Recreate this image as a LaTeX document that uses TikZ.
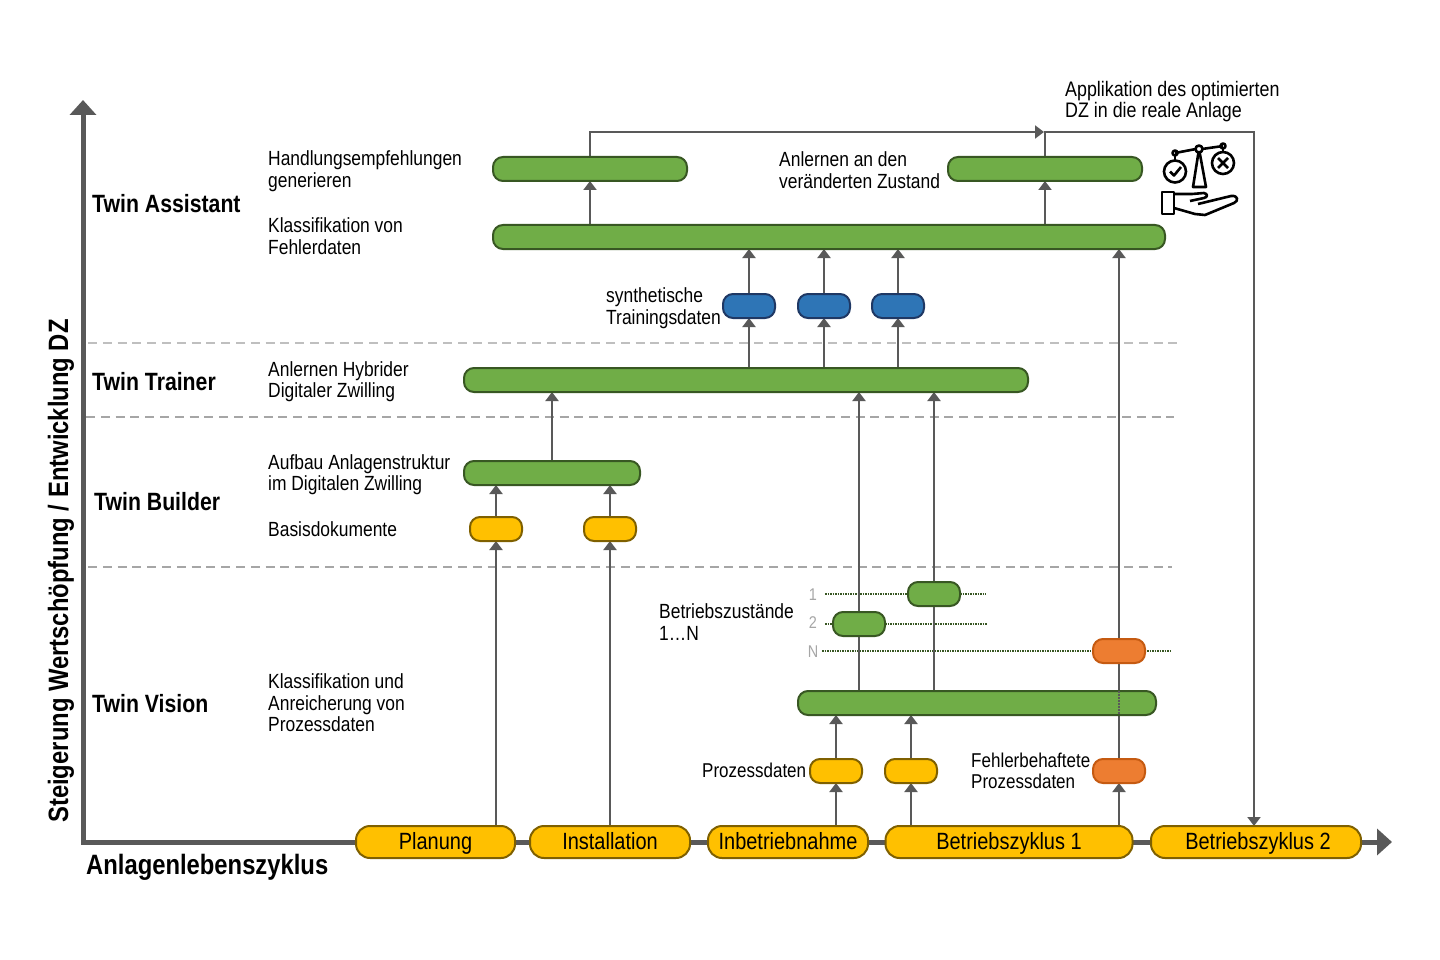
\documentclass[tikz,border=0pt]{standalone}
\usepackage{fontspec}
\setmainfont[FakeStretch=0.85]{Liberation Sans}
\usetikzlibrary{arrows.meta,backgrounds}
\definecolor{linegray}{HTML}{595959}
\definecolor{dashgray}{HTML}{A6A6A6}
\definecolor{dashlight}{HTML}{BFBFBF}
\definecolor{greenfill}{HTML}{70AD47}
\definecolor{greenline}{HTML}{385723}
\definecolor{bluefill}{HTML}{2E75B6}
\definecolor{blueline}{HTML}{1F3864}
\definecolor{yellowfill}{HTML}{FFC000}
\definecolor{yellowline}{HTML}{7F6000}
\definecolor{orangefill}{HTML}{ED7D31}
\definecolor{orangeline}{HTML}{C55A11}
\tikzset{
  pill/.style={rectangle,rounded corners=10pt,minimum height=24pt,inner sep=0pt,outer sep=0pt,line width=2pt},
  gp/.style={pill,fill=greenfill,draw=greenline},
  bp/.style={pill,fill=bluefill,draw=blueline},
  yp/.style={pill,fill=yellowfill,draw=yellowline},
  op/.style={pill,fill=orangefill,draw=orangeline},
  life/.style={yp,rounded corners=14pt,minimum height=32pt,text height=16pt,text depth=2pt,font=\fontsize{23.5}{25}\selectfont},
  conn/.style={draw=linegray,line width=2pt,-{Triangle[width=13pt,length=9pt]}},
  plain/.style={draw=linegray,line width=2pt},
  axisline/.style={draw=linegray,line width=5pt},
  sep/.style={draw=dashgray,line width=2pt,dash pattern=on 9pt off 5.8pt},
  seplight/.style={sep,draw=dashlight},
  state/.style={draw=greenline,line width=1.5pt,dash pattern=on 1.5pt off 1pt},
  lbl/.style={anchor=west,inner sep=0pt,align=left,font=\fontsize{20.5}{21.5}\selectfont},
  head/.style={anchor=west,inner sep=0pt,font=\bfseries\fontsize{25}{28}\selectfont},
  axlabel/.style={head,font=\bfseries\fontsize{28}{30}\selectfont},
  num/.style={anchor=center,inner sep=0pt,text=dashgray,font=\fontsize{17}{18}\selectfont},
  icon/.style={draw=black,line width=2.6pt,line join=round,fill=none}
}
\begin{document}
\begin{tikzpicture}[x=1pt,y=-1pt]
\useasboundingbox (0,0) rectangle (1440,960);
% pills
\node[gp,minimum width=194pt] (hand) at (590,169) {};
\node[gp,minimum width=194pt] (anl) at (1045,169) {};
\node[gp,minimum width=672pt] (klass) at (829,237) {};
\node[bp,minimum width=52pt] (b1) at (749,306) {};
\node[bp,minimum width=52pt] (b2) at (824,306) {};
\node[bp,minimum width=52pt] (b3) at (898,306) {};
\node[gp,minimum width=564pt] (train) at (746,380) {};
\node[gp,minimum width=176pt] (build) at (552,473) {};
\node[yp,minimum width=52pt] (d1) at (496,529) {};
\node[yp,minimum width=52pt] (d2) at (610,529) {};
\node[gp,minimum width=52pt] (s1) at (934,594) {};
\node[gp,minimum width=52pt] (s2) at (859,624) {};
\node[op,minimum width=52pt] (sn) at (1119,651) {};
\node[gp,minimum width=358pt] (vis) at (977,703) {};
\node[yp,minimum width=52pt] (p1) at (836,771) {};
\node[yp,minimum width=52pt] (p2) at (911,771) {};
\node[op,minimum width=52pt] (pf) at (1119,771) {};
\node[life,minimum width=159pt] (plan) at (435.5,842) {Planung};
\node[life,minimum width=160pt] (inst) at (610,842) {Installation};
\node[life,minimum width=160pt] (inbe) at (788,842) {Inbetriebnahme};
\node[life,minimum width=247pt] (bz1) at (1009,842) {Betriebszyklus 1};
\node[life,minimum width=210pt] (bz2) at (1256,842) {\hspace{4pt}Betriebszyklus 2};
% free ends
\coordinate (o) at (83,842);
\coordinate (ytop) at (83,100);
\coordinate (xend) at (1392,842);
\coordinate (t1) at (590,132);
\coordinate (t2) at (1044,132);
\coordinate (t3) at (1045,132);
\coordinate (t4) at (1254,132);
\coordinate (sa1) at (88,343);\coordinate (sa2) at (1177,343);
\coordinate (sb1) at (86,417);\coordinate (sb2) at (1174,417);
\coordinate (sc1) at (88,567);\coordinate (sc2) at (1172,567);
\coordinate (l1a) at (825,594);\coordinate (l1b) at (986,594);
\coordinate (l2a) at (825,624);\coordinate (l2b) at (987,624);
\coordinate (l3a) at (822,651);\coordinate (l3b) at (1171,651);
\begin{scope}[on background layer]
\draw[axisline,{Triangle[width=26pt,length=15pt]}-{Triangle[width=26pt,length=15pt]}] (ytop) -- (o) -- (xend);
\draw[seplight] (sa1) -- (sa2);
\draw[sep] (sb1) -- (sb2);
\draw[sep] (sc1) -- (sc2);
\draw[state] (l1a) -- (l1b);
\draw[state] (l2a) -- (l2b);
\draw[state] (l3a) -- (l3b);
\draw[conn] (hand.north) -- (t1) -- (t2);
\draw[conn] (anl.north) -- (t3) -- (t4) -- (t4 |- bz2.north);
\draw[conn] (klass.north -| hand) -- (hand.south);
\draw[conn] (klass.north -| anl) -- (anl.south);
\draw[conn] (b1.north) -- (b1 |- klass.south);
\draw[conn] (b2.north) -- (b2 |- klass.south);
\draw[conn] (b3.north) -- (b3 |- klass.south);
\draw[conn] (train.north -| b1) -- (b1.south);
\draw[conn] (train.north -| b2) -- (b2.south);
\draw[conn] (train.north -| b3) -- (b3.south);
\draw[conn] (build.north) -- (build |- train.south);
\draw[conn] (d1.north) -- (d1 |- build.south);
\draw[conn] (d2.north) -- (d2 |- build.south);
\draw[conn] (plan.north -| d1) -- (d1.south);
\draw[conn] (inst.north) -- (d2.south);
\draw[conn] (vis.north -| s2) -- (s2 |- train.south);
\draw[conn] (vis.north -| s1) -- (s1 |- train.south);
\draw[conn] (vis.north -| sn) -- (sn |- klass.south);
\draw[plain] (pf.north) -- (pf |- vis.south);
\draw[conn] (p1.north) -- (p1 |- vis.south);
\draw[conn] (p2.north) -- (p2 |- vis.south);
\draw[conn] (inbe.north -| p1) -- (p1.south);
\draw[conn] (bz1.north -| p2) -- (p2.south);
\draw[conn] (bz1.north -| pf) -- (pf.south);
\end{scope}
\draw[draw=linegray,line width=1.2pt,dash pattern=on 1.5pt off 1.5pt] (vis.north -| pf) -- (vis.south -| pf);
% labels
\node[head] (h1) at (92,204) {Twin Assistant};
\node[head] (h2) at (92,382) {Twin Trainer};
\node[head] (h3) at (94,502) {Twin Builder};
\node[head] (h4) at (92,704) {Twin Vision};
\node[axlabel] (xl) at (86,867) {Anlagenlebenszyklus};
\node[axlabel,anchor=center,rotate=90] (yl) at (61,571) {Steigerung Wertschöpfung / Entwicklung DZ};
\node[lbl] (a1) at (268,171) {Handlungsempfehlungen\\generieren};
\node[lbl] (a2) at (268,236) {Klassifikation von\\Fehlerdaten};
\node[lbl] (a3) at (779,170) {Anlernen an den\\veränderten Zustand};
\node[lbl,font=\fontsize{21}{21.5}\selectfont] (a4) at (1065,101.5) {Applikation des optimierten\\DZ in die reale Anlage};
\node[lbl] (a5) at (606,308) {synthetische\\Trainingsdaten};
\node[lbl] (a6) at (268,381.5) {Anlernen Hybrider\\Digitaler Zwilling};
\node[lbl] (a7) at (268,474.5) {Aufbau Anlagenstruktur\\im Digitalen Zwilling};
\node[lbl] (a8) at (268,529) {Basisdokumente};
\node[lbl] (a9) at (659,622) {Betriebszustände\\1…N};
\node[lbl] (a10) at (268,703) {Klassifikation und\\Anreicherung von\\Prozessdaten};
\node[lbl,font=\fontsize{20}{21.5}\selectfont] (a11) at (702,770) {Prozessdaten};
\node[lbl,font=\fontsize{20}{21.5}\selectfont] (a12) at (971,771) {Fehlerbehaftete\\Prozessdaten};
\node[num] (n1) at (813,595) {1};
\node[num] (n2) at (813,623) {2};
\node[num] (n3) at (813,652) {N};
% icon: scales
\draw[icon] (1199,149) -- (1193,187) -- (1206,187) -- cycle;
\draw[icon,fill=white] (1199,149) circle (3.5);
\draw[icon] (1175,153) -- (1196,149) (1202,149) -- (1223,146);
\draw[icon] (1175,153) circle (2.5) (1223,146) circle (2.5);
\draw[icon] (1175,156) -- (1175,160) (1223,149) -- (1223,152);
\draw[icon] (1175,171.5) circle (11) (1223,163) circle (11);
\draw[icon] (1170,171.5) -- (1174,175.5) -- (1181,167);
\draw[icon] (1218,158) -- (1228,168) (1228,158) -- (1218,168);
% icon: hand
\draw[icon] (1162,192) rectangle (1174,214);
\draw[icon] (1174,194) -- (1192,194) -- (1204,193) .. controls (1208,194) and (1208,197) .. (1204,198) -- (1190,201);
\draw[icon] (1198,204) -- (1231,196) .. controls (1238,195) and (1239,201) .. (1234,203) -- (1205,215) -- (1195,214) -- (1174,208);
\end{tikzpicture}
\end{document}
